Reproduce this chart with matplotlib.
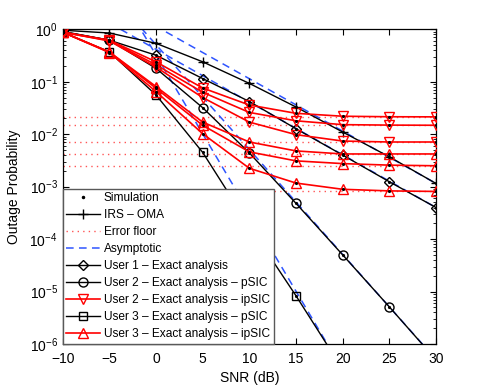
#!/usr/bin/env python3
import matplotlib

matplotlib.use("Agg")
import matplotlib.pyplot as plt
import numpy as np
from matplotlib.lines import Line2D

SNR = [-10, -5, 0, 5, 10, 15, 20, 25, 30]

IRS_OMA = [0.96, 0.85, 0.54, 0.24, 0.093, 0.033, 0.011, 3.7e-3, 1.15e-3]
USER1 = [0.91, 0.62, 0.32, 0.115, 0.042, 0.0127, 4.0e-3, 1.24e-3, 4.0e-4]
USER2_PSIC = [0.90, 0.62, 0.18, 0.032, 4.4e-3, 4.8e-4, 5.0e-5, 5.1e-6, 5.0e-7]
USER3_PSIC = [0.88, 0.37, 0.056, 4.5e-3, 1.8e-4, 8.3e-6, 3.3e-7, np.nan, np.nan]

USER2_IPSIC = [
    [0.88, 0.62, 0.24, 0.076, 0.036, 0.025, 0.022, 0.0215, 0.0214],
    [0.88, 0.61, 0.21, 0.063, 0.026, 0.018, 0.0152, 0.0149, 0.0148],
    [0.88, 0.60, 0.19, 0.050, 0.017, 0.0098, 0.0074, 0.0071, 0.0071],
]
USER3_IPSIC = [
    [0.88, 0.37, 0.081, 0.017, 7.1e-3, 4.8e-3, 4.2e-3, 4.2e-3, 4.2e-3],
    [0.88, 0.37, 0.075, 0.0148, 4.6e-3, 3.1e-3, 2.75e-3, 2.57e-3, 2.5e-3],
    [0.88, 0.36, 0.065, 0.0102, 2.24e-3, 1.17e-3, 8.9e-4, 8.3e-4, 8.1e-4],
]

ERROR_FLOORS = [0.0214, 0.0148, 0.0071, 0.0042, 0.0025, 8.1e-4]

# asymptotes are straight on the log axis, so two end points are enough
ASYM_SNR = [[-5, 30], [-5, 30], [-5, 30], [-5, 20]]
ASYM_VAL = [[3.6, 1.15e-3], [1.32, 4.0e-4], [5.1, 5.1e-7], [10.2, 3.2e-7]]

plt.rcParams["font.family"] = ["Liberation Sans", "DejaVu Sans"]
plt.rcParams["mathtext.fontset"] = "custom"
plt.rcParams["mathtext.rm"] = "Liberation Sans"
plt.rcParams["mathtext.it"] = "Liberation Sans:italic"


def main():
    fig = plt.figure(figsize=(4.82, 3.88), dpi=100)
    ax = fig.add_axes([0.130, 0.1134, 0.7746, 0.8111])

    red = "#ff0000"
    blue = "#2f55ff"
    mk = dict(markersize=6.5, markerfacecolor="none", markeredgewidth=1.0)

    for f in ERROR_FLOORS:
        ax.plot([SNR[0], SNR[-1]], [f, f], color="#ff5555", lw=1.0,
                linestyle=(0, (1, 3)), zorder=1)

    for xs, ys in zip(ASYM_SNR, ASYM_VAL):
        ax.plot(xs, ys, color=blue, lw=1.1, linestyle=(0, (5, 3.5)), zorder=2)

    ax.plot(SNR, IRS_OMA, color="k", lw=1.0, marker="+", markersize=7,
            markeredgewidth=1.0, zorder=3)
    ax.plot(SNR, USER1, color="k", lw=1.0, marker="D", zorder=3,
            **dict(mk, markersize=5.5))
    ax.plot(SNR, USER2_PSIC, color="k", lw=1.0, marker="o", zorder=3, **mk)
    ax.plot(SNR, USER3_PSIC, color="k", lw=1.0, marker="s", zorder=3,
            **dict(mk, markersize=5.5))

    for ys in USER2_IPSIC:
        ax.plot(SNR, ys, color=red, lw=1.2, marker="v", zorder=4, **mk)
    for ys in USER3_IPSIC:
        ax.plot(SNR, ys, color=red, lw=1.2, marker="^", zorder=4, **mk)

    # simulation points
    for ys in [IRS_OMA, USER1, USER2_PSIC, USER3_PSIC] + USER2_IPSIC + USER3_IPSIC:
        ax.plot(SNR, ys, linestyle="none", marker=".", color="k",
                markersize=2.5, zorder=5)

    ax.set_yscale("log")
    ax.set_xlim(-10, 30)
    ax.set_ylim(1e-6, 1)
    ax.set_xticks(range(-10, 31, 5))
    ax.set_yticks([10.0 ** k for k in range(-6, 1)])
    ax.tick_params(which="both", direction="in", top=True, right=True,
                   labelsize=10)
    ax.tick_params(axis="x", pad=6)
    ax.tick_params(which="major", length=4)
    ax.tick_params(which="minor", length=2)
    ax.set_xlabel("SNR (dB)", fontsize=10, labelpad=3)
    ax.set_ylabel("Outage Probability", fontsize=10, labelpad=6)
    for s in ax.spines.values():
        s.set_linewidth(0.9)

    handles = [
        Line2D([], [], color="k", linestyle="none", marker=".", markersize=3),
        Line2D([], [], color="k", lw=1.0, marker="+", markersize=7),
        Line2D([], [], color="#ff5555", lw=1.0, linestyle=(0, (1, 3))),
        Line2D([], [], color=blue, lw=1.1, linestyle=(0, (5, 3.5))),
        Line2D([], [], color="k", lw=1.0, marker="D", **dict(mk, markersize=5.5)),
        Line2D([], [], color="k", lw=1.0, marker="o", **mk),
        Line2D([], [], color=red, lw=1.2, marker="v", **mk),
        Line2D([], [], color="k", lw=1.0, marker="s", **dict(mk, markersize=5.5)),
        Line2D([], [], color=red, lw=1.2, marker="^", **mk),
    ]
    labels = [
        "Simulation",
        "IRS \u2013 OMA",
        "Error floor",
        "Asymptotic",
        "User 1 \u2013 Exact analysis",
        "User 2 \u2013 Exact analysis \u2013 pSIC",
        "User 2 \u2013 Exact analysis \u2013 ipSIC",
        "User 3 \u2013 Exact analysis \u2013 pSIC",
        "User 3 \u2013 Exact analysis \u2013 ipSIC",
    ]
    leg = ax.legend(handles, labels, loc="lower left", fontsize=8.6,
                    borderaxespad=0, fancybox=False, framealpha=1,
                    handlelength=2.8, handletextpad=0.35, labelspacing=0.42,
                    borderpad=0.3)
    leg.get_frame().set_edgecolor("0.35")
    leg.get_frame().set_linewidth(1.0)
    leg.set_zorder(10)

    fig.savefig("out.png", dpi=100)


if __name__ == "__main__":
    main()
